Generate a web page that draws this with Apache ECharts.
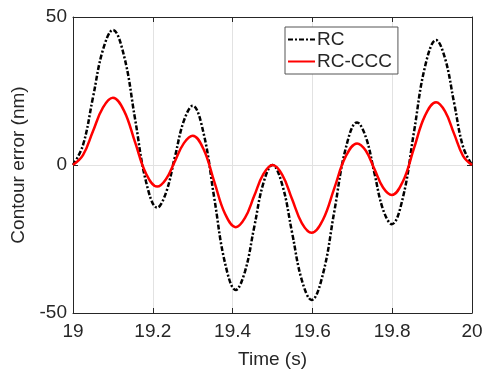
<!DOCTYPE html>
<html>
<head>
<meta charset="utf-8">
<script src="https://cdn.jsdelivr.net/npm/echarts@6/dist/echarts.min.js"></script>
<style>
  html, body { margin: 0; padding: 0; background: #fff; }
  #chart { width: 487px; height: 369px; }
</style>
</head>
<body>
<div id="chart"></div>
<script>
const times = [
  19.0, 19.025, 19.05, 19.075, 19.1,
  19.128, 19.1555, 19.183, 19.211,
  19.233, 19.2555, 19.278, 19.3,
  19.327, 19.354, 19.381, 19.408,
  19.431, 19.454, 19.477, 19.5,
  19.5245, 19.549, 19.5735, 19.598,
  19.6265, 19.655, 19.6835, 19.712,
  19.734, 19.7555, 19.777, 19.799,
  19.827, 19.8545, 19.882, 19.91,
  19.9325, 19.955, 19.9775, 20.0
];
// contour error (nm)
const rcValues = [
  0, 6.7, 22.8, 38.9, 45.6,
  36.8, 15.6, -5.6, -14.4,
  -9.4, 2.8, 15.0, 20.0,
  10.9, -11.1, -33.1, -42.2,
  -36.0, -21.1, -6.2, 0,
  -6.7, -22.8, -38.9, -45.6,
  -36.8, -15.6, 5.6, 14.4,
  9.4, -2.8, -15.0, -20.0,
  -10.9, 11.1, 33.1, 42.2,
  36.0, 21.1, 6.2, 0
];
const cccValues = [
  0, 3.3, 11.4, 19.4, 22.7,
  18.3, 7.7, -2.9, -7.3,
  -4.8, 1.3, 7.4, 9.9,
  5.4, -5.6, -16.5, -21.0,
  -17.9, -10.5, -3.1, 0,
  -3.3, -11.5, -19.6, -22.9,
  -18.5, -7.8, 2.9, 7.3,
  4.8, -1.4, -7.6, -10.1,
  -5.5, 5.6, 16.6, 21.2,
  18.1, 10.6, 3.1, 0
];
const seriesNames = ['RC', 'RC-CCC'];

const axisColor = '#262626';
const font = 'Liberation Sans, Arial, Helvetica, sans-serif';

const chart = echarts.init(document.getElementById('chart'));

const pair = (vals) => times.map((t, i) => [t, vals[i]]);

chart.setOption({
  animation: false,
  backgroundColor: '#fff',
  grid: { left: 73, right: 15, top: 17, bottom: 56, containLabel: false, outerBoundsMode: 'none' },
  legend: {
    left: 285, top: 27,
    orient: 'vertical',
    data: seriesNames,
    itemWidth: 27, itemHeight: 12, itemGap: 3,
    padding: [3, 6, 3, 2],
    backgroundColor: '#fff',
    borderColor: '#555', borderWidth: 1, borderRadius: 0,
    itemStyle: { opacity: 0 },
    textStyle: { fontFamily: font, fontSize: 19, color: axisColor, padding: [0, 0, 0, -3] }
  },
  xAxis: [{
    type: 'value', min: 19, max: 20, interval: 0.2,
    name: 'Time (s)', nameLocation: 'middle', nameGap: 37,
    nameTextStyle: { fontFamily: font, fontSize: 19, color: axisColor },
    axisLine: { show: true, onZero: false, lineStyle: { color: axisColor, width: 1 } },
    axisTick: { show: true, inside: true, length: 5, lineStyle: { color: axisColor } },
    axisLabel: { fontFamily: font, fontSize: 19, color: axisColor, margin: 9,
      formatter: v => String(+v.toFixed(1)) },
    splitLine: { show: true, lineStyle: { color: '#e2e2e2', width: 1 } }
  }, {
    type: 'value', min: 19, max: 20, interval: 0.2, position: 'top',
    axisLine: { show: true, onZero: false, lineStyle: { color: axisColor, width: 1 } },
    axisTick: { show: true, inside: true, length: 5, lineStyle: { color: axisColor } },
    axisLabel: { show: false },
    splitLine: { show: false }
  }],
  yAxis: [{
    type: 'value', min: -50, max: 50, interval: 50,
    name: 'Contour error (nm)', nameLocation: 'middle', nameGap: 32,
    nameTextStyle: { fontFamily: font, fontSize: 19, color: axisColor },
    axisLine: { show: true, onZero: false, lineStyle: { color: axisColor, width: 1 } },
    axisTick: { show: true, inside: true, length: 5, lineStyle: { color: axisColor } },
    axisLabel: { fontFamily: font, fontSize: 19, color: axisColor, margin: 6 },
    splitLine: { show: true, lineStyle: { color: '#e2e2e2', width: 1 } }
  }, {
    type: 'value', min: -50, max: 50, interval: 50, position: 'right',
    axisLine: { show: true, onZero: false, lineStyle: { color: axisColor, width: 1 } },
    axisTick: { show: true, inside: true, length: 5, lineStyle: { color: axisColor } },
    axisLabel: { show: false },
    splitLine: { show: false }
  }],
  series: [{
    name: seriesNames[0], type: 'line', data: pair(rcValues),
    smooth: 0.4, symbol: 'none', z: 3,
    lineStyle: { color: '#000', width: 2.5, type: [5, 2, 2, 2] },
    itemStyle: { color: '#000' }
  }, {
    name: seriesNames[1], type: 'line', data: pair(cccValues),
    smooth: 0.4, symbol: 'none', z: 4,
    lineStyle: { color: '#ff0000', width: 2.5 },
    itemStyle: { color: '#ff0000' }
  }]
});
</script>
</body>
</html>
